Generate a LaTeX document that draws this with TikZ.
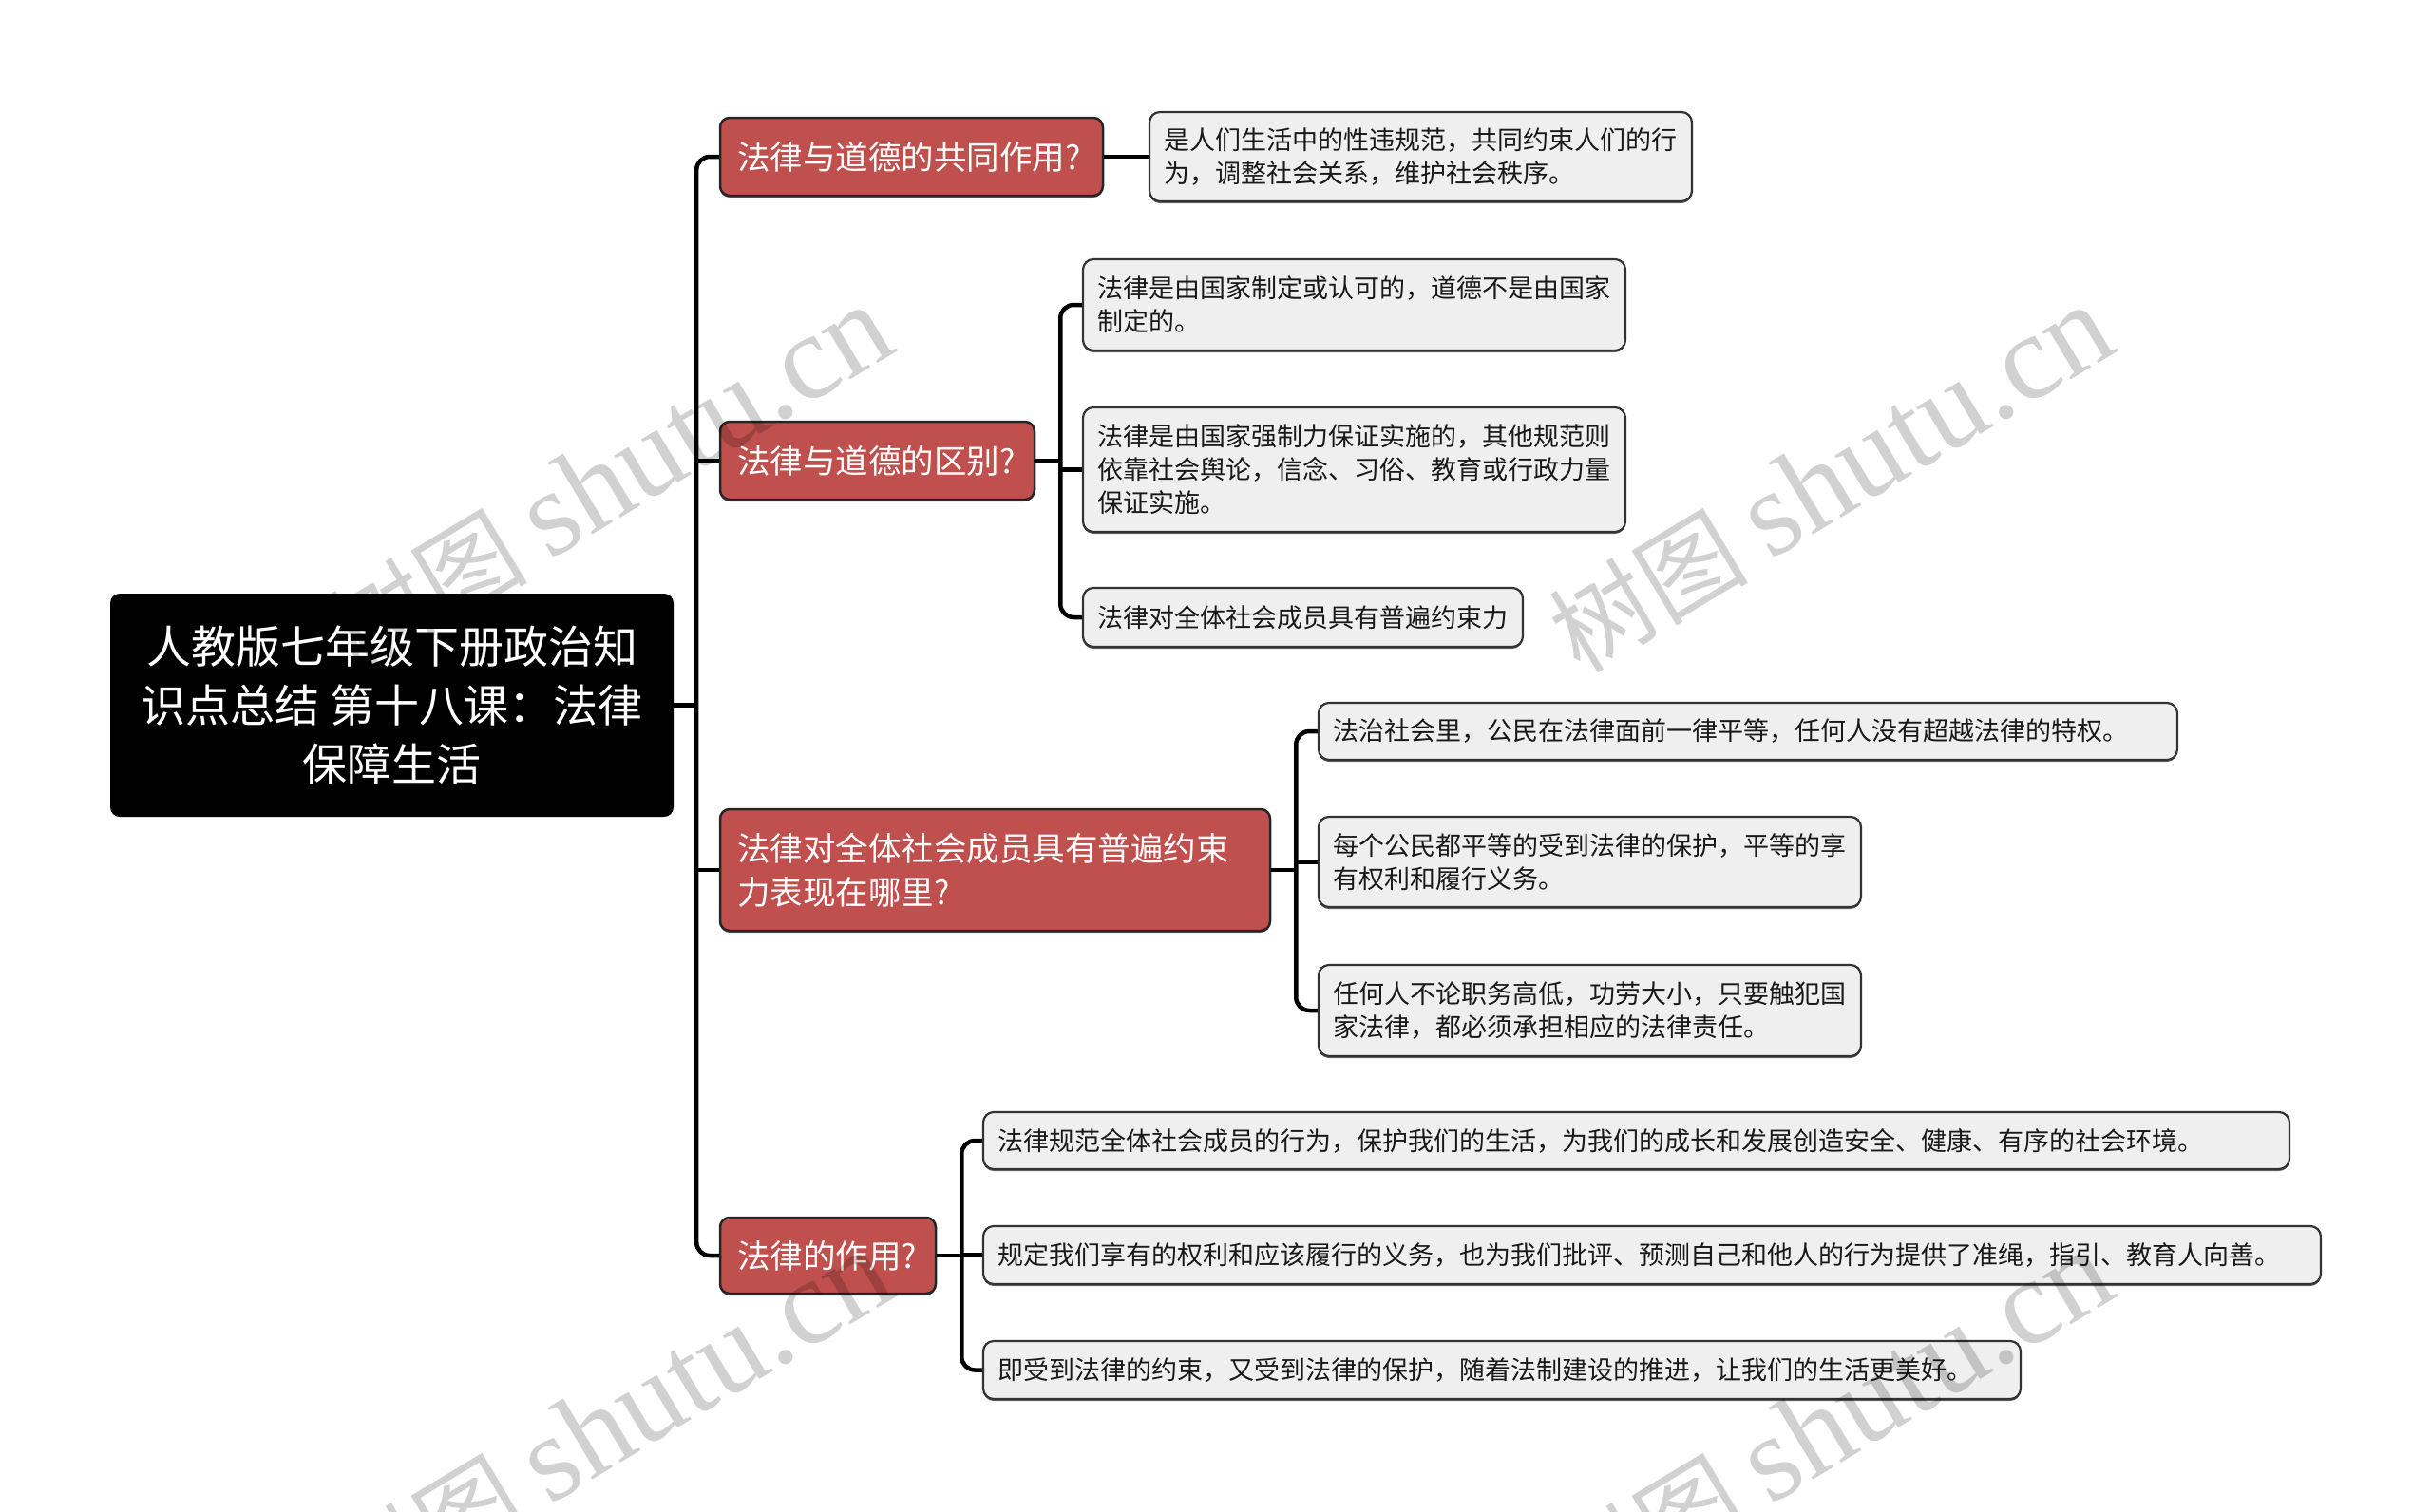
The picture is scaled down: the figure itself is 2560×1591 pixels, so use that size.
\documentclass[tikz,border=0pt]{standalone}
\usepackage{fontspec}
\setmainfont{Noto Sans CJK SC}
\newfontfamily\wmlatin{Liberation Serif}
\usetikzlibrary{calc,shadows}
\definecolor{branchred}{HTML}{C0504D}
\definecolor{leafgray}{HTML}{EFEFEF}
\tikzset{
  boxshadow/.style={drop shadow={shadow xshift=0pt, shadow yshift=-2pt, fill=black, opacity=0.6}},
  rootbox/.style={fill=black, rounded corners=10pt, text=white, align=center, inner sep=0pt,
    font=\fontsize{47}{62}\selectfont},
  branchbox/.style={fill=branchred, draw=black!85, line width=2.5pt, rounded corners=10pt,
    text=white, align=left, inner sep=0pt, font=\fontsize{34.5}{46}\selectfont, boxshadow},
  leafbox/.style={fill=leafgray, draw=black!80, line width=2.2pt, rounded corners=11pt,
    text=black!90, align=left, inner sep=0pt, font=\fontsize{27}{35}\selectfont, boxshadow},
  conn/.style={line width=4.5pt, black, rounded corners=14pt},
  wm/.style={text=black, text opacity=0.18, rotate=31, inner sep=0pt,
    font=\fontsize{105}{105}\selectfont}
}
\newcommand{\wmtext}{树图 {\wmlatin\fontsize{128}{128}\selectfont shutu.cn}}
\begin{document}
\begin{tikzpicture}[x=1pt, y=-1pt]
\useasboundingbox (0,0) rectangle (2560,1591);
% root
\node[rootbox, minimum width=593pt, minimum height=235pt] (root) at (412.5,742.5)
  {人教版七年级下册政治知\\识点总结 第十八课：法律\\保障生活};
% branches
\node[branchbox, minimum width=403pt, minimum height=82pt, text width=367pt] (b1) at (959.5,165) {法律与道德的共同作用?};
\node[branchbox, minimum width=331pt, minimum height=82pt, text width=295pt] (b2) at (923.5,485) {法律与道德的区别?};
\node[branchbox, minimum width=579pt, minimum height=128pt, text width=543pt] (b3) at (1047.5,916) {法律对全体社会成员具有普遍约束\\力表现在哪里?};
\node[branchbox, minimum width=227pt, minimum height=80pt, text width=191pt] (b4) at (871.5,1322) {法律的作用?};
% leaves
\node[leafbox, minimum width=571pt, minimum height=94pt, text width=541pt] (l1) at (1495.5,165) {是人们生活中的性违规范，共同约束人们的行\\为，调整社会关系，维护社会秩序。};
\node[leafbox, minimum width=571pt, minimum height=96pt, text width=541pt] (l2a) at (1425.5,321) {法律是由国家制定或认可的，道德不是由国家\\制定的。};
\node[leafbox, minimum width=571pt, minimum height=131pt, text width=541pt] (l2b) at (1425.5,494.5) {法律是由国家强制力保证实施的，其他规范则\\依靠社会舆论，信念、习俗、教育或行政力量\\保证实施。};
\node[leafbox, minimum width=463pt, minimum height=62pt, text width=433pt] (l2c) at (1371.5,650) {法律对全体社会成员具有普遍约束力};
\node[leafbox, minimum width=904pt, minimum height=60pt, text width=874pt] (l3a) at (1840,770) {法治社会里，公民在法律面前一律平等，任何人没有超越法律的特权。};
\node[leafbox, minimum width=571pt, minimum height=95pt, text width=541pt] (l3b) at (1673.5,907.5) {每个公民都平等的受到法律的保护，平等的享\\有权利和履行义务。};
\node[leafbox, minimum width=571pt, minimum height=96pt, text width=541pt] (l3c) at (1673.5,1064) {任何人不论职务高低，功劳大小，只要触犯国\\家法律，都必须承担相应的法律责任。};
\node[leafbox, minimum width=1375pt, minimum height=60pt, text width=1345pt] (l4a) at (1722.5,1201) {法律规范全体社会成员的行为，保护我们的生活，为我们的成长和发展创造安全、健康、有序的社会环境。};
\node[leafbox, minimum width=1408pt, minimum height=61pt, text width=1378pt] (l4b) at (1739,1321.5) {规定我们享有的权利和应该履行的义务，也为我们批评、预测自己和他人的行为提供了准绳，指引、教育人向善。};
\node[leafbox, minimum width=1092pt, minimum height=61pt, text width=1062pt] (l4c) at (1581,1442.5) {即受到法律的约束，又受到法律的保护，随着法制建设的推进，让我们的生活更美好。};
% junctions
\coordinate (tj) at ($(root.east)+(24,0)$);
\coordinate (j2) at ($(b2.east)+(26,0)$);
\coordinate (j3) at ($(b3.east)+(26,0)$);
\coordinate (j4) at ($(b4.east)+(26,0)$);
% connectors
\draw[conn] (root.east) -- (tj);
\draw[conn] (b1.west) -| (tj) |- (b4.west);
\draw[conn] (tj |- b2.west) -- (b2.west);
\draw[conn] (tj |- b3.west) -- (b3.west);
\draw[conn] (b1.east) -- (l1.west);
\draw[conn] (b2.east) -- (j2);
\draw[conn] (l2a.west) -| (j2) |- (l2c.west);
\draw[conn] (j2 |- l2b.west) -- (l2b.west);
\draw[conn] (b3.east) -- (j3);
\draw[conn] (l3a.west) -| (j3) |- (l3c.west);
\draw[conn] (j3 |- l3b.west) -- (l3b.west);
\draw[conn] (b4.east) -- (j4);
\draw[conn] (l4a.west) -| (j4) |- (l4c.west);
\draw[conn] (j4 |- l4b.west) -- (l4b.west);
% watermarks
\node[wm] (wm1) at (642,505) {\wmtext};
\node[wm] (wm2) at (1927,505) {\wmtext};
\node[wm] (wm3) at (642,1500) {\wmtext};
\node[wm] (wm4) at (1927,1500) {\wmtext};
\end{tikzpicture}
\end{document}
